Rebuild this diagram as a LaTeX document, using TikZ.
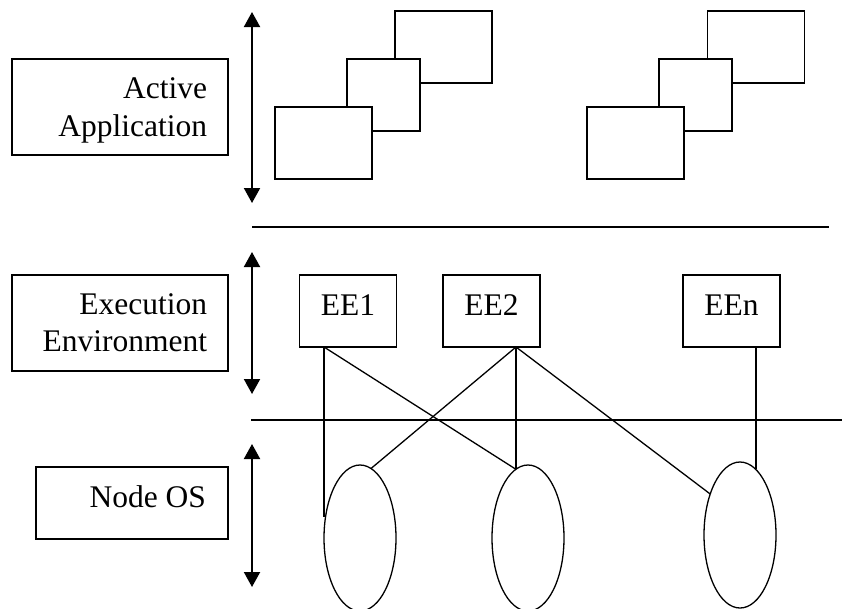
\documentclass[tikz,border=0pt]{standalone}
\usepackage{fontspec}
\setmainfont{Liberation Serif}
\usetikzlibrary{shapes.geometric,arrows.meta,calc}
\begin{document}
\begin{tikzpicture}[x=1pt,y=-1pt,
  every node/.style={inner sep=0pt,outer sep=0pt},
  txt/.style={font=\fontsize{31.5}{37.5}\selectfont},
  box/.style={draw,line width=1.3pt,fill=white},
  labelbox/.style={box,minimum width=216pt,minimum height=96pt},
  apprect/.style={box,minimum width=97pt,minimum height=72pt},
  appmid/.style={box,minimum width=73pt,minimum height=72pt},
  eebox/.style={box,minimum width=97pt,minimum height=72pt},
  osnode/.style={ellipse,draw,line width=1.3pt,minimum width=72pt,minimum height=146pt},
  link/.style={line width=1.3pt},
  layerarrow/.style={line width=2pt,{Triangle[length=15pt,width=16pt]}-{Triangle[length=15pt,width=16pt]}},
  divider/.style={line width=1.3pt}
]
\useasboundingbox (0,0) rectangle (842,608);

% layer captions
\node[labelbox] (appbox) at (120,107) {};
\node[txt,align=right,anchor=east] (apptxt) at (207,110.6) {Active\\Application};
\node[labelbox] (envbox) at (120,323) {};
\node[txt,align=right,anchor=east] (envtxt) at (207,322.8) {Execution\\Environment};
\node[box,minimum width=192pt,minimum height=72pt] (osbox) at (132,503) {};
\node[txt,anchor=base east] (ostxt) at (206,507) {Node OS};

% extent arrows of the three layers
\coordinate (a1t) at (252,12);  \coordinate (a1b) at (252,203);
\coordinate (a2t) at (252,252); \coordinate (a2b) at (252,394);
\coordinate (a3t) at (252,444); \coordinate (a3b) at (252,587);
\draw[layerarrow] (a1t) -- (a1b);
\draw[layerarrow] (a2t) -- (a2b);
\draw[layerarrow] (a3t) -- (a3b);

% layer dividers
\coordinate (d1l) at (252,227); \coordinate (d1r) at (829,227);
\coordinate (d2l) at (251,420); \coordinate (d2r) at (842,420);
\draw[divider] (d1l) -- (d1r);
\draw[divider] (d2l) -- (d2r);

% stacked application windows
\node[apprect] (w1c) at (443.5,47) {};
\node[appmid]  (w1b) at (383.5,95) {};
\node[apprect] (w1a) at (323.5,143) {};
\node[apprect] (w2c) at (756,47) {};
\node[appmid]  (w2b) at (695.5,95) {};
\node[apprect] (w2a) at (635.5,143) {};

% execution environments
\node[eebox] (ee1) at (348,311) {};
\node[txt,anchor=base] (ee1t) at (348,315) {EE1};
\node[eebox] (ee2) at (491.5,311) {};
\node[txt,anchor=base] (ee2t) at (491.5,315) {EE2};
\node[eebox] (een) at (731.5,311) {};
\node[txt,anchor=base] (eent) at (731.5,315) {EEn};

% node OS instances
\node[osnode] (os1) at (360,538) {};
\node[osnode] (os2) at (528,538) {};
\node[osnode] (os3) at (740,535) {};

% bindings between environments and node OS instances
\coordinate (s1) at ([xshift=-24pt]ee1.south);
\coordinate (s2) at ([xshift=24.5pt]ee2.south);
\coordinate (sn) at ([xshift=24.5pt]een.south);
\draw[link] (s1) -- (s1 |- os1.149);
\draw[link] (s1) -- (os2.100);
\draw[link] (s2) -- (os1.81);
\draw[link] (s2) -- (s2 |- os2.100);
\draw[link] (s2) -- (os3.126);
\draw[link] (sn) -- (sn |- os3.77);
\end{tikzpicture}
\end{document}
